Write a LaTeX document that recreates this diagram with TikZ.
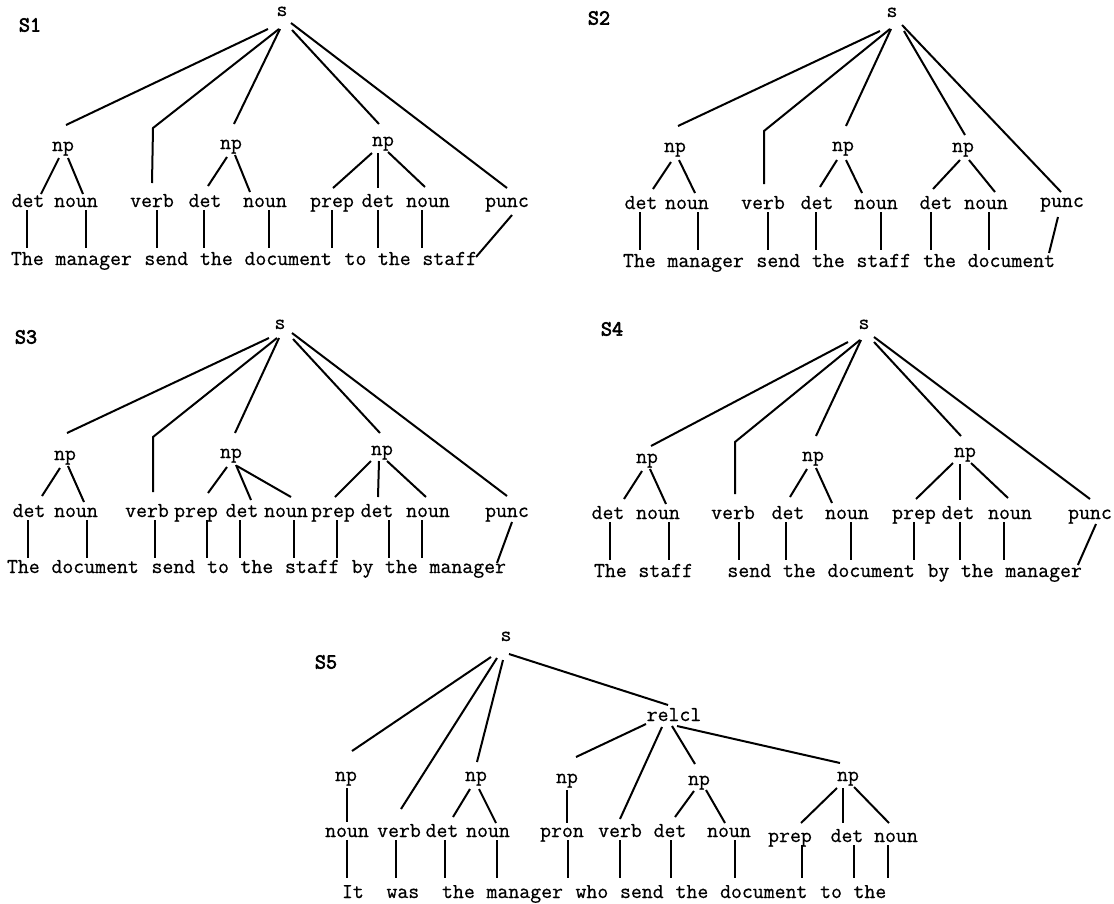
\documentclass[tikz,border=0pt]{standalone}
\usepackage{fontspec}
\newfontfamily\cour{Latin Modern Mono}[FakeBold=0.6]
\newfontfamily\courbold{Latin Modern Mono}[FakeBold=3]
% tree edge between two labels, each end given as an offset from the label's base point
\newcommand\edge[4]{\draw ([shift={(#2)}]#1.base) -- ([shift={(#4)}]#3.base);}
% vertical line from a category label down to the top of its word
\newcommand\leaf[3]{\path (#1.base |- #2.base) coordinate (lf);
  \draw ([shift={(#3,3)}]#1.base) -- ([shift={(#3,-\lg)}]lf);}
% word of the sentence, placed on the monospace character grid
\newcommand\wrd[3]{\node[wd] (#1) at ({\xo+#2*11.12},\yw) {#3};}
\begin{document}
\begin{tikzpicture}[x=1pt,y=-1pt,line width=2pt,
  lab/.style={font={\cour\fontsize{21.2}{24}\selectfont},inner sep=0pt,anchor=base},
  wd/.style={lab,anchor=base west},
  ttl/.style={font={\courbold\fontsize{21.5}{24}\selectfont},inner sep=0pt}]
\useasboundingbox (0,0) rectangle (1114,903);

% ---------------- S1 ----------------
\def\xo{10}\def\yw{265}\def\lg{17}
\node[ttl] (t1) at (30,25) {S1};
\node[lab] (s1) at (282,16) {s};
\node[lab] (s1n1) at (63,151) {np};
\node[lab] (s1n2) at (231,149) {np};
\node[lab] (s1n3) at (383,146) {np};
\node[lab] (s1a) at (28,207) {det};
\node[lab] (s1b) at (76,207) {noun};
\node[lab] (s1c) at (152,207) {verb};
\node[lab] (s1d) at (205,207) {det};
\node[lab] (s1e) at (265,207) {noun};
\node[lab] (s1f) at (332,207) {prep};
\node[lab] (s1g) at (378,207) {det};
\node[lab] (s1h) at (428,207) {noun};
\node[lab] (s1i) at (507,207) {punc};
\wrd{s1w1}{0}{The}\wrd{s1w2}{4}{manager}\wrd{s1w3}{12}{send}\wrd{s1w4}{17}{the}
\wrd{s1w5}{21}{document}\wrd{s1w6}{30}{to}\wrd{s1w7}{33}{the}\wrd{s1w8}{37}{staff}
\edge{s1}{-14,13}{s1n1}{3,-26}
\draw ([shift={(-3,13)}]s1.base) -- ([shift={(1,-79)}]s1c.base) -- ([shift={(0,-24)}]s1c.base);
\edge{s1}{-2,13}{s1n2}{3,-25}
\edge{s1}{10,14}{s1n3}{-4,-22}
\edge{s1}{9,7}{s1i}{0,-19}
\edge{s1n1}{-4,7}{s1a}{13,-13}
\edge{s1n1}{5,7}{s1b}{7,-13}
\edge{s1n2}{-4,8}{s1d}{3,-21}
\edge{s1n2}{4,6}{s1e}{-15,-15}
\edge{s1n3}{-11,7}{s1f}{1,-19}
\edge{s1n3}{-5,7}{s1g}{0,-19}
\edge{s1n3}{5,6}{s1h}{-3,-20}
\leaf{s1a}{s1w1}{-1}\leaf{s1b}{s1w2}{10}\leaf{s1c}{s1w3}{5}\leaf{s1d}{s1w4}{-1}
\leaf{s1e}{s1w5}{4}\leaf{s1f}{s1w6}{0}\leaf{s1g}{s1w7}{0}\leaf{s1h}{s1w8}{-6}
\draw ([shift={(5,8)}]s1i.base) -- ([shift={(-2,-8)}]s1w8.base east);

% ---------------- S2 ----------------
\def\xo{622}\def\yw{267}\def\lg{17}
\node[ttl] (t2) at (599,18) {S2};
\node[lab] (s2) at (892,17) {s};
\node[lab] (s2n1) at (675,152) {np};
\node[lab] (s2n2) at (843,151) {np};
\node[lab] (s2n3) at (963,152) {np};
\node[lab] (s2a) at (641,209) {det};
\node[lab] (s2b) at (687,209) {noun};
\node[lab] (s2c) at (763,209) {verb};
\node[lab] (s2d) at (817,209) {det};
\node[lab] (s2e) at (876,209) {noun};
\node[lab] (s2f) at (936,209) {det};
\node[lab] (s2g) at (986,209) {noun};
\node[lab] (s2h) at (1062,207) {punc};
\wrd{s2w1}{0}{The}\wrd{s2w2}{4}{manager}\wrd{s2w3}{12}{send}\wrd{s2w4}{17}{the}
\wrd{s2w5}{21}{staff}\wrd{s2w6}{27}{the}\wrd{s2w7}{31}{document}
\edge{s2}{-12,14}{s2n1}{3,-26}
\draw ([shift={(-2,12)}]s2.base) -- ([shift={(1,-78)}]s2c.base) -- ([shift={(1,-25)}]s2c.base);
\edge{s2}{-1,12}{s2n2}{3,-25}
\edge{s2}{12,14}{s2n3}{2,-17}
\edge{s2}{10,8}{s2h}{-1,-15}
\edge{s2n1}{-4,10}{s2a}{12,-20}
\edge{s2n1}{4,8}{s2b}{8,-16}
\edge{s2n2}{-6,9}{s2d}{3,-22}
\edge{s2n2}{3,9}{s2e}{-14,-16}
\edge{s2n3}{-3,8}{s2f}{-3,-20}
\edge{s2n3}{6,8}{s2g}{9,-17}
\leaf{s2a}{s2w1}{-1}\leaf{s2b}{s2w2}{11}\leaf{s2c}{s2w3}{5}\leaf{s2d}{s2w4}{-1}
\leaf{s2e}{s2w5}{5}\leaf{s2f}{s2w6}{-5}\leaf{s2g}{s2w7}{3}
\draw ([shift={(-4,10)}]s2h.base) -- ([shift={(-7,-14)}]s2w7.base east);

% ---------------- S3 ----------------
\def\xo{6}\def\yw{573}\def\lg{15}
\node[ttl] (t3) at (26,337) {S3};
\node[lab] (s3) at (280,329) {s};
\node[lab] (s3n1) at (65,460) {np};
\node[lab] (s3n2) at (231,458) {np};
\node[lab] (s3n3) at (382,455) {np};
\node[lab] (s3a) at (29,517) {det};
\node[lab] (s3b) at (76,517) {noun};
\node[lab] (s3c) at (147,517) {verb};
\node[lab] (s3d) at (196,517) {prep};
\node[lab] (s3e) at (242,517) {det};
\node[lab] (s3f) at (286,517) {noun};
\node[lab] (s3g) at (333,517) {prep};
\node[lab] (s3h) at (377,517) {det};
\node[lab] (s3i) at (428,517) {noun};
\node[lab] (s3j) at (507,517) {punc};
\wrd{s3w1}{0}{The}\wrd{s3w2}{4}{document}\wrd{s3w3}{13}{send}\wrd{s3w4}{18}{to}
\wrd{s3w5}{21}{the}\wrd{s3w6}{25}{staff}\wrd{s3w7}{31}{by}\wrd{s3w8}{34}{the}\wrd{s3w9}{38}{manager}
\edge{s3}{-11,9}{s3n1}{2,-27}
\draw ([shift={(-3,9)}]s3.base) -- ([shift={(6,-80)}]s3c.base) -- ([shift={(6,-25)}]s3c.base);
\edge{s3}{-1,9}{s3n2}{4,-25}
\edge{s3}{13,10}{s3n3}{-2,-22}
\edge{s3}{12,4}{s3j}{0,-21}
\edge{s3n1}{-5,8}{s3a}{13,-21}
\edge{s3n1}{3,6}{s3b}{8,-15}
\edge{s3n2}{-4,9}{s3d}{12,-24}
\edge{s3n2}{5,7}{s3e}{9,-17}
\edge{s3n2}{6,8}{s3f}{5,-20}
\edge{s3n3}{-11,6}{s3g}{2,-20}
\edge{s3n3}{-3,6}{s3h}{1,-20}
\edge{s3n3}{5,6}{s3i}{-2,-20}
\leaf{s3a}{s3w1}{-1}\leaf{s3b}{s3w2}{11}\leaf{s3c}{s3w3}{8}\leaf{s3d}{s3w4}{11}
\leaf{s3e}{s3w5}{-2}\leaf{s3f}{s3w6}{8}\leaf{s3g}{s3w7}{4}\leaf{s3h}{s3w8}{12}
\leaf{s3i}{s3w9}{-6}
\draw ([shift={(5,5)}]s3j.base) -- ([shift={(-10,-10)}]s3w9.base east);

% ---------------- S4 ----------------
\def\xo{593}\def\yw{577}\def\lg{17}
\node[ttl] (t4) at (612,329) {S4};
\node[lab] (s4) at (864,329) {s};
\node[lab] (s4n1) at (647,463) {np};
\node[lab] (s4n2) at (813,461) {np};
\node[lab] (s4n3) at (965,457) {np};
\node[lab] (s4a) at (608,519) {det};
\node[lab] (s4b) at (658,519) {noun};
\node[lab] (s4c) at (733,519) {verb};
\node[lab] (s4d) at (788,519) {det};
\node[lab] (s4e) at (847,519) {noun};
\node[lab] (s4f) at (914,519) {prep};
\node[lab] (s4g) at (958,519) {det};
\node[lab] (s4h) at (1010,519) {noun};
\node[lab] (s4i) at (1090,519) {punc};
\wrd{s4w1}{0}{The}\wrd{s4w2}{4}{staff}\wrd{s4w3}{12}{send}\wrd{s4w4}{17}{the}
\wrd{s4w5}{21}{document}\wrd{s4w6}{30}{by}\wrd{s4w7}{33}{the}\wrd{s4w8}{37}{manager}
\edge{s4}{-16,13}{s4n1}{4,-17}
\draw ([shift={(-4,11)}]s4.base) -- ([shift={(2,-77)}]s4c.base) -- ([shift={(2,-25)}]s4c.base);
\edge{s4}{-3,11}{s4n2}{3,-25}
\edge{s4}{10,13}{s4n3}{-4,-21}
\edge{s4}{10,8}{s4i}{0,-20}
\edge{s4n1}{-5,8}{s4a}{16,-20}
\edge{s4n1}{3,6}{s4b}{8,-15}
\edge{s4n2}{-6,8}{s4d}{2,-22}
\edge{s4n2}{3,7}{s4e}{-15,-16}
\edge{s4n3}{-12,6}{s4f}{2,-20}
\edge{s4n3}{-5,7}{s4g}{2,-19}
\edge{s4n3}{6,6}{s4h}{-2,-21}
\leaf{s4a}{s4w1}{2}\leaf{s4b}{s4w2}{11}\leaf{s4c}{s4w3}{6}\leaf{s4d}{s4w4}{-2}
\leaf{s4e}{s4w5}{4}\leaf{s4f}{s4w6}{0}\leaf{s4g}{s4w7}{2}\leaf{s4h}{s4w8}{-6}
\draw ([shift={(6,5)}]s4i.base) -- ([shift={(-5,-12)}]s4w8.base east);

% ---------------- S5 ----------------
\def\xo{341}\def\yw{898}\def\lg{20}
\node[ttl] (t5) at (326,662) {S5};
\node[lab] (s5) at (506,641) {s};
\node[lab] (s5r) at (674,721) {relcl};
\node[lab] (s5n1) at (346,781) {np};
\node[lab] (s5n2) at (476,781) {np};
\node[lab] (s5n3) at (567,783) {np};
\node[lab] (s5n4) at (699,785) {np};
\node[lab] (s5n5) at (848,781) {np};
\node[lab] (s5a) at (347,837) {noun};
\node[lab] (s5b) at (399,837) {verb};
\node[lab] (s5c) at (442,837) {det};
\node[lab] (s5d) at (488,837) {noun};
\node[lab] (s5e) at (562,837) {pron};
\node[lab] (s5f) at (620,837) {verb};
\node[lab] (s5g) at (670,837) {det};
\node[lab] (s5h) at (729,837) {noun};
\node[lab] (s5i) at (790,842) {prep};
\node[lab] (s5j) at (847,842) {det};
\node[lab] (s5k) at (896,842) {noun};
\wrd{s5w1}{0}{It}\wrd{s5w2}{4}{was}\wrd{s5w3}{9}{the}\wrd{s5w4}{13}{manager}
\wrd{s5w5}{21}{who}\wrd{s5w6}{25}{send}\wrd{s5w7}{30}{the}\wrd{s5w8}{34}{document}
\wrd{s5w9}{43}{to}\wrd{s5w10}{46}{the}
\edge{s5}{-15,16}{s5n1}{6,-30}
\edge{s5}{-9,17}{s5b}{2,-28}
\edge{s5}{-3,19}{s5n2}{1,-19}
\edge{s5}{3,13}{s5r}{-6,-16}
\edge{s5r}{-28,3}{s5n3}{9,-26}
\edge{s5r}{-12,6}{s5f}{0,-18}
\edge{s5r}{-2,5}{s5n4}{-4,-21}
\edge{s5r}{3,5}{s5n5}{-8,-18}
\edge{s5n1}{1,7}{s5a}{0,-15}
\edge{s5n2}{-6,8}{s5c}{11,-20}
\edge{s5n2}{3,8}{s5d}{8,-14}
\edge{s5n3}{0,7}{s5e}{5,-14}
\edge{s5n4}{-5,6}{s5g}{5,-20}
\edge{s5n4}{7,5}{s5h}{-4,-14}
\edge{s5n5}{-11,7}{s5i}{11,-19}
\edge{s5n5}{-5,7}{s5j}{-4,-19}
\edge{s5n5}{6,6}{s5k}{-7,-19}
\leaf{s5a}{s5w1}{0}\leaf{s5b}{s5w2}{-3}\leaf{s5c}{s5w3}{3}\leaf{s5d}{s5w4}{9}
\leaf{s5e}{s5w5}{6}\leaf{s5f}{s5w6}{0}\leaf{s5g}{s5w7}{1}\leaf{s5h}{s5w8}{6}
\leaf{s5i}{s5w9}{12}\leaf{s5j}{s5w10}{7}\leaf{s5k}{s5w10}{-8}
\end{tikzpicture}
\end{document}
